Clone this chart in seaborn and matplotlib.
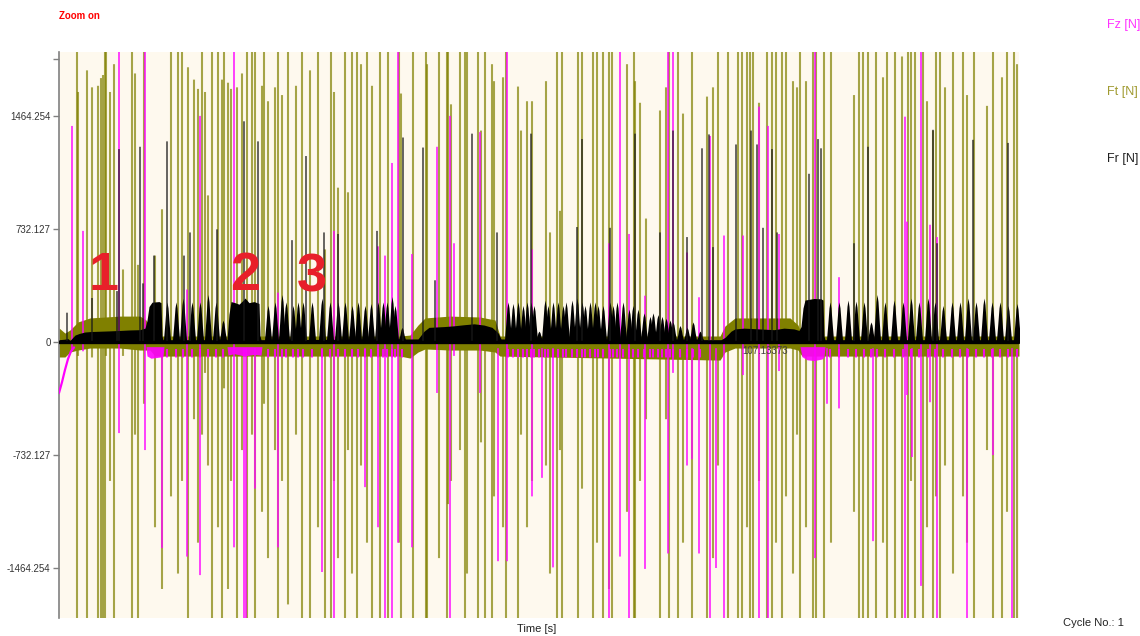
import matplotlib
matplotlib.use("Agg")
import matplotlib.pyplot as plt
import numpy as np
import pandas as pd
import seaborn as sns

# ---------------- data ----------------
# Ft quasi-static band (time [s], upper / lower envelope [N])
ft_band_t = [0.0, 0.6, 1.1, 1.9, 3.1, 6.1, 8.1, 8.7, 9.1, 9.6, 34.1, 35.1, 35.9, 36.6,
             39.1, 42.1, 43.6, 44.1, 66.1, 66.6, 67.6, 73.1, 73.9, 74.3, 96.0]
ft_band_hi = [91, 58, 78, 130, 156, 168, 168, 143, 78, 39, 39, 45, 110, 156,
              168, 162, 143, 39, 39, 104, 156, 156, 110, 39, 39]
ft_band_lo = [-97, -97, -65, -52, -39, -39, -52, -52, -52, -91, -91, -104, -65, -45,
              -52, -52, -65, -91, -117, -65, -39, -39, -52, -91, -91]

# Ft spikes (time, max, min)
ft_spk_t = [1.8, 1.9, 2.8, 3.3, 3.9, 4.2, 4.4, 4.6, 4.7, 5.1, 5.5, 6.4, 7.3, 7.6, 7.9, 8.5,
            9.6, 10.3, 11.2, 11.9, 12.3, 12.9, 13.5, 13.9, 14.3, 14.6, 14.9, 15.3, 15.9, 16.3,
            16.5, 16.9, 17.2, 17.8, 18.3, 18.8, 19.3, 19.6, 20.3, 20.5, 20.9, 21.6, 21.9, 22.3,
            22.9, 23.7, 24.3, 25.1, 25.9, 26.6, 27.2, 27.5, 27.9, 28.6, 28.9, 29.3, 29.8, 30.2,
            30.8, 31.3, 32.1, 32.9, 34.0, 34.2, 35.4, 36.7, 36.8, 38.0, 38.8, 38.9, 39.2, 40.1,
            40.6, 40.8, 41.9, 42.2, 42.6, 43.3, 43.5, 44.4, 44.7, 45.9, 46.2, 46.8, 47.3, 48.7,
            49.1, 49.8, 50.1, 50.3, 51.9, 52.3, 53.4, 53.8, 54.4, 55.0, 55.3, 56.8, 57.5, 57.6,
            58.1, 58.7, 60.1, 60.7, 61.0, 61.9, 62.4, 63.3, 64.8, 65.4, 65.9, 66.9, 67.9, 68.3,
            68.8, 69.1, 69.4, 70.0, 70.8, 71.3, 71.7, 72.3, 72.7, 73.4, 73.8, 74.1, 74.7, 75.4,
            75.7, 76.5, 77.2, 79.5, 80.0, 80.4, 80.9, 81.7, 82.4, 82.8, 83.6, 84.3, 84.9, 85.2,
            85.6, 86.4, 86.8, 87.4, 87.7, 88.1, 88.6, 89.4, 90.4, 90.8, 91.5, 92.8, 93.4, 94.3,
            94.8, 95.5, 95.8]
ft_spk_hi = [2000, 1620, 1760, 1650, 1660, 1710, 1730, 2000, 2000, 1620, 1800, 470, 2000, 1740, 500, 2000,
             560, 860, 2000, 2000, 2000, 1780, 1700, 1640, 2000, 1620, 950, 2000, 2000, 1700,
             2000, 1680, 1640, 1650, 1740, 2000, 2000, 2000, 1660, 2000, 1560, 1650, 2000, 1600,
             2000, 1660, 2000, 1760, 2000, 600, 2000, 1620, 1000, 2000, 970, 2000, 2000, 1800,
             2000, 1660, 2000, 2000, 2000, 1610, 2000, 2000, 1800, 2000, 2000, 2000, 1540, 2000,
             2000, 2000, 2000, 1370, 2000, 1800, 1690, 1715, 2000, 1655, 1370, 1560, 1560, 1690,
             710, 2000, 850, 2000, 2000, 2000, 2000, 2000, 2000, 2000, 2000, 1800, 2000, 1690,
             1550, 800, 1500, 1650, 2000, 2000, 1480, 2000, 1590, 1650, 2000, 2000, 2000, 2000,
             2000, 2000, 2000, 1550, 2000, 2000, 2000, 2000, 2000, 1690, 1650, 2000, 1690, 2000,
             2000, 2000, 2000, 1600, 2000, 2000, 2000, 2000, 1715, 2000, 2000, 1850, 2000, 2000,
             2000, 2000, 1560, 1370, 2000, 2000, 1650, 2000, 2000, 1600, 2000, 1530, 2000, 1715,
             2000, 2000, 1800]
ft_spk_lo = [-2000, -90, -2000, -100, -2000, -2000, -2000, -2000, -90, -900, -2000, -90, -2000, -600, -2000, -400,
             -1200, -1600, -1000, -1500, -900, -2000, -500, -1300, -600, -200, -800, -2000, -1200, -2000,
             -300, -1600, -900, -2000, -700, -1900, -600, -2000, -1100, -400, -1400, -700, -2000, -900,
             -1700, -600, -2000, -2000, -1200, -2000, -2000, -900, -1400, -2000, -700, -1500, -2000, -800,
             -1300, -2000, -2000, -2000, -1300, -2000, -2000, -2000, -2000, -1400, -2000, -1050, -900, -700,
             -2000, -1500, -2000, -650, -2000, -2000, -1000, -1200, -2000, -2000, -600, -1200, -900, -800,
             -1500, -2000, -700, -2000, -2000, -950, -2000, -1300, -2000, -1600, -2000, -1100, -2000, -2000,
             -900, -500, -2000, -500, -2000, -2000, -1300, -2000, -2000, -1400, -800, -2000, -2000, -2000,
             -1200, -2000, -2000, -900, -2000, -2000, -1300, -2000, -1000, -1500, -600, -2000, -1200, -2000,
             -2000, -2000, -1300, -1100, -2000, -2000, -2000, -2000, -1300, -2000, -2000, -1800, -2000, -900,
             -2000, -2000, -1200, -2000, -1000, -2000, -800, -1500, -1000, -1300, -2000, -700, -2000, -2000,
             -1100, -2000, -2000]

# Fr continuous envelope (time, value)
fr_env_t = [0.0, 0.5, 0.9, 1.1, 1.6, 2.0, 2.6, 3.2, 4.1, 5.0, 6.1, 7.0, 8.1, 8.6, 8.8, 9.0, 9.3, 10.0,
            10.2, 10.3, 10.4,
            16.8, 17.0, 17.2, 17.6, 18.0, 18.4, 18.6, 19.0, 19.5, 20.0, 20.1, 20.2,
            35.9, 36.5, 37.0, 38.5, 39.5, 40.5, 41.5, 42.5, 43.3, 43.9, 44.2,
            66.2, 66.6, 67.2, 67.6, 68.5, 70.0, 71.5, 72.5, 73.5, 74.0, 74.2, 74.4, 74.6, 75.5,
            76.2, 76.4, 76.5, 76.6, 96.0]
fr_env_v = [15, 18, 22, 10, 45, 55, 65, 68, 70, 72, 75, 78, 80, 90, 140, 230, 258, 262,
            255, 40, 15,
            15, 180, 262, 255, 245, 270, 285, 255, 262, 250, 40, 15,
            20, 70, 95, 100, 105, 112, 118, 110, 95, 60, 20,
            15, 30, 70, 85, 90, 85, 80, 90, 85, 75, 100, 220, 272, 282,
            280, 272, 40, 15, 15]

# Fr tooth peaks (time, peak value)
fr_peak_t = [10.8, 11.7, 12.4, 13.3, 14.1, 14.9, 15.7, 16.4,
             20.9, 21.6, 22.3, 22.7, 23.4, 23.9, 24.4, 25.3, 26.3, 27.1, 27.9, 28.6, 29.3, 29.9,
             30.6, 31.2, 31.9, 32.4, 32.8, 33.3, 33.6, 34.3,
             44.9, 45.4, 45.9, 46.4, 46.8, 47.2, 47.5, 48.0, 48.6, 48.9, 49.4, 49.9, 50.4, 50.7,
             51.3, 51.8, 52.3, 52.6, 53.1, 53.6, 53.9, 54.4, 55.1, 55.4, 55.8, 56.4, 57.0, 57.4,
             57.9, 58.5, 59.1, 59.4, 59.9, 60.3, 60.7, 61.1, 61.4, 62.1, 62.8, 63.4, 64.1,
             77.1, 78.0, 78.9, 79.7, 80.5, 81.2, 81.8, 82.6, 83.5, 84.4, 85.2, 86.0, 86.9, 87.6,
             88.4, 89.3, 90.1, 90.9, 91.7, 92.5, 93.3, 94.1, 94.9, 95.8]
fr_peak_v = [260, 260, 285, 260, 260, 308, 260, 142,
             237, 260, 308, 260, 237, 260, 260, 260, 285, 260, 260, 260, 237, 260,
             237, 250, 260, 260, 260, 295, 237, 95,
             260, 250, 260, 237, 260, 260, 237, 71, 272, 237, 260, 260, 237, 260,
             272, 285, 260, 237, 260, 260, 237, 237, 260, 237, 260, 260, 213, 237,
             213, 189, 166, 189, 178, 166, 154, 142, 130, 107, 95, 130, 71,
             260, 260, 272, 265, 260, 130, 308, 260, 272, 260, 285, 260, 285, 260,
             237, 260, 260, 285, 260, 285, 260, 260, 237, 250]

# Fr isolated spikes (time, max)
fr_spk_t = [0.8, 3.3, 5.8, 6.0, 8.1, 8.4, 9.5, 10.8, 12.5, 13.1, 15.8, 18.5, 19.9, 23.3, 24.7,
            26.5, 27.9, 31.8, 34.4, 36.4, 37.6, 41.3, 43.8, 47.2, 51.8, 52.3, 55.1, 57.6, 60.1,
            61.4, 62.8, 64.3, 65.0, 65.4, 67.7, 69.2, 69.8, 70.4, 71.3, 71.8, 75.0, 75.9, 76.2,
            79.5, 80.9, 87.4, 87.8, 91.4, 94.9]
fr_spk_hi = [190, 285, 330, 1250, 1265, 380, 560, 1300, 560, 710, 730, 1430, 1300, 660, 1205,
             710, 700, 720, 1325, 1260, 400, 1350, 710, 1350, 745, 1315, 740, 1350, 710,
             1370, 680, 1255, 1345, 615, 1280, 1370, 1280, 740, 1250, 710, 1090, 1315, 1255,
             640, 1265, 1375, 640, 1310, 1290]

# Fz start transient and contact dips
fz_start_t = [0.0, 0.3, 0.6, 0.9, 1.2, 1.5]
fz_start_v = [-330, -260, -180, -110, -60, -35]
fz_env_t = [8.7, 8.8, 9.2, 9.8, 10.4, 10.5,
            16.8, 16.9, 17.5, 18.5, 19.5, 20.2, 20.3,
            74.1, 74.3, 74.8, 75.5, 76.3, 76.5, 76.6]
fz_env_v = [-30, -90, -105, -100, -95, -30,
            -30, -85, -75, -90, -80, -85, -30,
            -30, -95, -115, -120, -110, -95, -30]
fz_dip_depth = -100

# Fz spikes (time, max, min)
fz_spk_t = [1.3, 2.4, 6.0, 8.6, 10.3, 12.8, 14.1, 17.5, 18.5, 18.7, 19.6, 21.9, 26.3, 27.5,
            30.6, 31.9, 32.6, 33.3, 33.9, 35.3, 37.8, 39.1, 39.5, 42.1, 43.9, 44.8, 47.3, 48.3,
            49.4, 55.0, 56.1, 57.0, 58.6, 60.9, 61.4, 62.8, 63.3, 64.0, 65.1, 65.7, 66.5, 68.4,
            70.0, 70.9, 72.0, 75.6, 76.8, 78.0, 81.4, 84.6, 84.8, 85.3, 86.2, 87.1, 87.8, 90.8,
            93.4, 95.3]
fz_spk_hi = [1400, 720, 2000, 2000, -40, 340, 1465, 2000, -40, -40, -40, 320, -40, 720,
             -40, 620, 560, 1160, 2000, 570, 1265, 1465, 640, 1360, -40, 2000, 600, -40,
             -40, 640, 2000, 700, 300, 2000, 2000, 580, -40, 290, 1335, -40, 690, 690,
             1525, 1400, 700, 2000, -40, 420, -40, 1460, 780, -40, 2000, 760, 680, -40,
             -40, -40]
fz_spk_lo = [-60, -60, -590, -700, -1335, -1390, -1510, -1330, -2000, -2000, -950, -1330, -1490, -2000,
             -940, -1200, -2000, -2000, -1300, -1330, -330, -2000, -90, -330, -1420, -1420, -1000, -880,
             -1460, -2000, -1390, -2000, -1470, -1370, -200, -800, -760, -1370, -2000, -1464, -2000, -214,
             -2000, -1900, -188, -1400, -400, -430, -1290, -2000, -343, -745, -1580, -390, -2000, -2000,
             -732, -2000]

y_ticks = [-1464.254, -732.127, 0.0, 732.127, 1464.254]
y_tick_labels = ["-1464.254", "-732.127", "0", "732.127", "1464.254"]
y_lim = (-1788, 1879)
t_lim = (0.0, 96.0)

# ---------------- styling ----------------
sns.set_theme(style="white")
plt.rcParams["font.family"] = ["Liberation Sans", "DejaVu Sans"]

OLIVE = "#808000"
MAGENTA = "#FF00FF"
CREAM = "#FEF9EE"

fig = plt.figure(figsize=(11.4, 6.36), dpi=100, facecolor="white")
ax = fig.add_axes([59 / 1140, 18 / 636, 960 / 1140, 566 / 636])
ax.set_facecolor(CREAM)

# Ft band and spikes
ax.fill_between(ft_band_t, ft_band_lo, ft_band_hi, color=OLIVE, lw=0, zorder=2)
ax.vlines(ft_spk_t, ft_spk_lo, ft_spk_hi, colors=OLIVE, lw=1.5, alpha=0.7,
          snap=False, zorder=3)

# Fz contact dips, bands, spikes, start transient
peaks_df = pd.DataFrame({"t": fr_peak_t, "v": fr_peak_v})
ax.vlines(peaks_df["t"], -45, fz_dip_depth, colors=MAGENTA, lw=1.5, alpha=0.9,
          snap=False, zorder=4)
ax.fill_between(fz_env_t, fz_env_v, -30, color=MAGENTA, lw=0, alpha=0.9, zorder=4)
ax.vlines(fz_spk_t, fz_spk_lo, fz_spk_hi, colors=MAGENTA, lw=1.3, alpha=0.8,
          snap=False, zorder=4)
sns.lineplot(x=fz_start_t, y=fz_start_v, ax=ax, color=MAGENTA, lw=1.6, zorder=4)

# Fr envelope, tooth peaks, spikes
ax.fill_between(fr_env_t, -8, fr_env_v, color="black", lw=0, zorder=5)
shape_dt = np.array([-0.35, -0.22, -0.1, 0.0, 0.1, 0.22, 0.35])
shape_k = np.array([0.0, 0.45, 0.85, 1.0, 0.85, 0.45, 0.0])
for c, h in zip(peaks_df["t"], peaks_df["v"]):
    xs = c + shape_dt
    ys = np.maximum(h * shape_k, 15)
    ax.fill_between(xs, -8, ys, color="black", lw=0, zorder=5)
ax.vlines(fr_spk_t, 0, fr_spk_hi, colors="#1a1a1a", lw=1.1, alpha=0.85,
          snap=False, zorder=5)
ax.axhline(0, color="black", lw=2.4, zorder=6)

# annotations
for lab, t, v in [("1", 4.5, 337), ("2", 18.6, 337), ("3", 25.3, 330)]:
    ax.text(t, v, lab, color="#E8202A", fontsize=39, fontweight="bold",
            ha="center", va="baseline", zorder=8)
ax.text(68.3, -58, "107.13373", color="#404040", fontsize=7, ha="left",
        va="center", zorder=8)

# axes
ax.set_xlim(*t_lim)
ax.set_ylim(*y_lim)
ax.set_xticks([])
ax.set_yticks(y_ticks + [1834])
ax.set_yticklabels(y_tick_labels + [""])
ax.tick_params(axis="y", left=True, length=4, width=1, color="#808080",
               labelsize=7, labelcolor="#333333", pad=2)
for side in ["top", "right", "bottom"]:
    ax.spines[side].set_visible(False)
ax.spines["left"].set_color("#808080")
ax.spines["left"].set_linewidth(1.2)
ax.set_xlabel("")
ax.set_ylabel("")

# figure texts
def ftext(px, py, s, **kw):
    fig.text(px / 1140, 1 - py / 636, s, **kw)

ftext(59, 16, "Zoom on", color="#FF0000", fontsize=7, fontweight="bold", ha="left", va="center")
ftext(1107, 25, "Fz [N]", color="#FF33FF", fontsize=9, ha="left", va="center")
ftext(1107, 92, "Ft [N]", color="#A09A30", fontsize=9, ha="left", va="center")
ftext(1107, 159, "Fr [N]", color="#202020", fontsize=9, ha="left", va="center")
ftext(537, 629, "Time [s]", color="#222222", fontsize=8, ha="center", va="center")
ftext(1063, 623, "Cycle No.: 1", color="#222222", fontsize=8, ha="left", va="center")

fig.savefig("out.png", dpi=100, facecolor="white")
